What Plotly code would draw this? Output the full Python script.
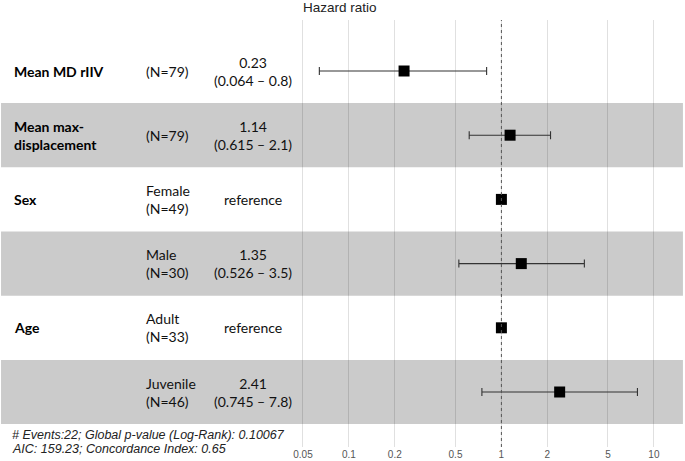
import plotly.graph_objects as go

# ---- data ----
variables = ["Mean MD rIIV", "Mean max-<br>displacement", "Sex", "", "Age", ""]
levels = ["(N=79)", "(N=79)", "Female<br>(N=49)", "Male<br>(N=30)", "Adult<br>(N=33)", "Juvenile<br>(N=46)"]
hr = [0.23, 1.14, 1.0, 1.35, 1.0, 2.41]
ci_low = [0.064, 0.615, 1.0, 0.526, 1.0, 0.745]
ci_high = [0.8, 2.1, 1.0, 3.5, 1.0, 7.8]
est_text = ["0.23<br>(0.064 \u2013 0.8)", "1.14<br>(0.615 \u2013 2.1)", "reference",
            "1.35<br>(0.526 \u2013 3.5)", "reference", "2.41<br>(0.745 \u2013 7.8)"]
tick_vals = [0.05, 0.1, 0.2, 0.5, 1, 2, 5, 10]
tick_text = ["0.05", "0.1", "0.2", "0.5", "1", "2", "5", "10"]
footer = ["# Events:22; Global p-value (Log-Rank): 0.10067",
          "AIC: 159.23; Concordance Index: 0.65"]

W, H = 685, 461
rows = list(range(1, len(hr) + 1))

top, bot = 20, 447


def py(px):
    """pixel y (from top of figure) -> paper y"""
    return (bot - px) / (bot - top)


fig = go.Figure()

fig.add_trace(go.Scatter(
    x=hr, y=rows, mode="markers",
    marker=dict(symbol="square", size=11, color="black"),
    error_x=dict(type="data", symmetric=False,
                 array=[h - m for h, m in zip(ci_high, hr)],
                 arrayminus=[m - l for m, l in zip(hr, ci_low)],
                 color="#333333", thickness=1.1, width=4),
    showlegend=False, hoverinfo="skip",
))

shapes = []
for r in rows:
    if r % 2 == 0:
        shapes.append(dict(type="rect", xref="paper", yref="y", x0=0.0015, x1=0.997,
                           y0=r - 0.5, y1=r + 0.5, fillcolor="#cbcbcb",
                           line=dict(width=0), layer="below"))
shapes.append(dict(type="line", xref="x", yref="paper", x0=1, x1=1, y0=0, y1=1,
                   line=dict(color="#555555", width=1, dash="dot"), layer="above"))

ann = []
font_txt = "Lato, 'Open Sans', sans-serif"
for r, v, lv, et in zip(rows, variables, levels, est_text):
    if v:
        ann.append(dict(x=12 / W, y=r, xref="paper", yref="y", text="<b>%s</b>" % v,
                        xanchor="left", yanchor="middle", align="left", showarrow=False,
                        font=dict(family=font_txt, size=14, color="black")))
    ann.append(dict(x=144 / W, y=r, xref="paper", yref="y", text=lv,
                    xanchor="left", yanchor="middle", align="left", showarrow=False,
                    font=dict(family=font_txt, size=14, color="#111111")))
    ann.append(dict(x=253 / W, y=r, xref="paper", yref="y", text=et,
                    xanchor="center", yanchor="middle", align="center", showarrow=False,
                    font=dict(family=font_txt, size=14, color="#111111")))

ann.append(dict(x=301 / W, y=py(8), xref="paper", yref="paper", text="Hazard ratio",
                xanchor="left", yanchor="middle", showarrow=False,
                font=dict(family="Liberation Sans, Arial, sans-serif", size=13.5, color="#222222")))
for i, t in enumerate(footer):
    ann.append(dict(x=10 / W, y=py(435 + 14 * i), xref="paper", yref="paper",
                    text="<i>%s</i>" % t, xanchor="left", yanchor="middle", showarrow=False,
                    font=dict(family="Liberation Sans, Arial, sans-serif", size=12.5, color="#222222")))

# axis mapping: 1 at px 501, 152.5 px per decade
px_dec = 152.5
x1_px = 501.4
xr = [-x1_px / px_dec, (W - x1_px) / px_dec]
row_px = 64.2
y0 = 1 - (71 - top) / row_px
y1 = y0 + (bot - top) / row_px

fig.update_layout(
    width=W, height=H,
    margin=dict(l=0, r=0, t=top, b=H - bot),
    paper_bgcolor="white", plot_bgcolor="white",
    shapes=shapes, annotations=ann,
    xaxis=dict(type="log", range=xr, tickvals=tick_vals, ticktext=tick_text,
               showgrid=True, gridcolor="rgba(0,0,0,0.12)", gridwidth=1,
               zeroline=False, showline=False, ticks="",
               tickfont=dict(family="Liberation Sans, Arial, sans-serif", size=10, color="#555555")),
    yaxis=dict(range=[y1, y0], showgrid=False, zeroline=False, showticklabels=False,
               showline=False, ticks=""),
)

fig.write_html("out.html", config={"displayModeBar": False},
               post_script="document.body.style.margin='0';document.body.style.overflow='hidden';")
